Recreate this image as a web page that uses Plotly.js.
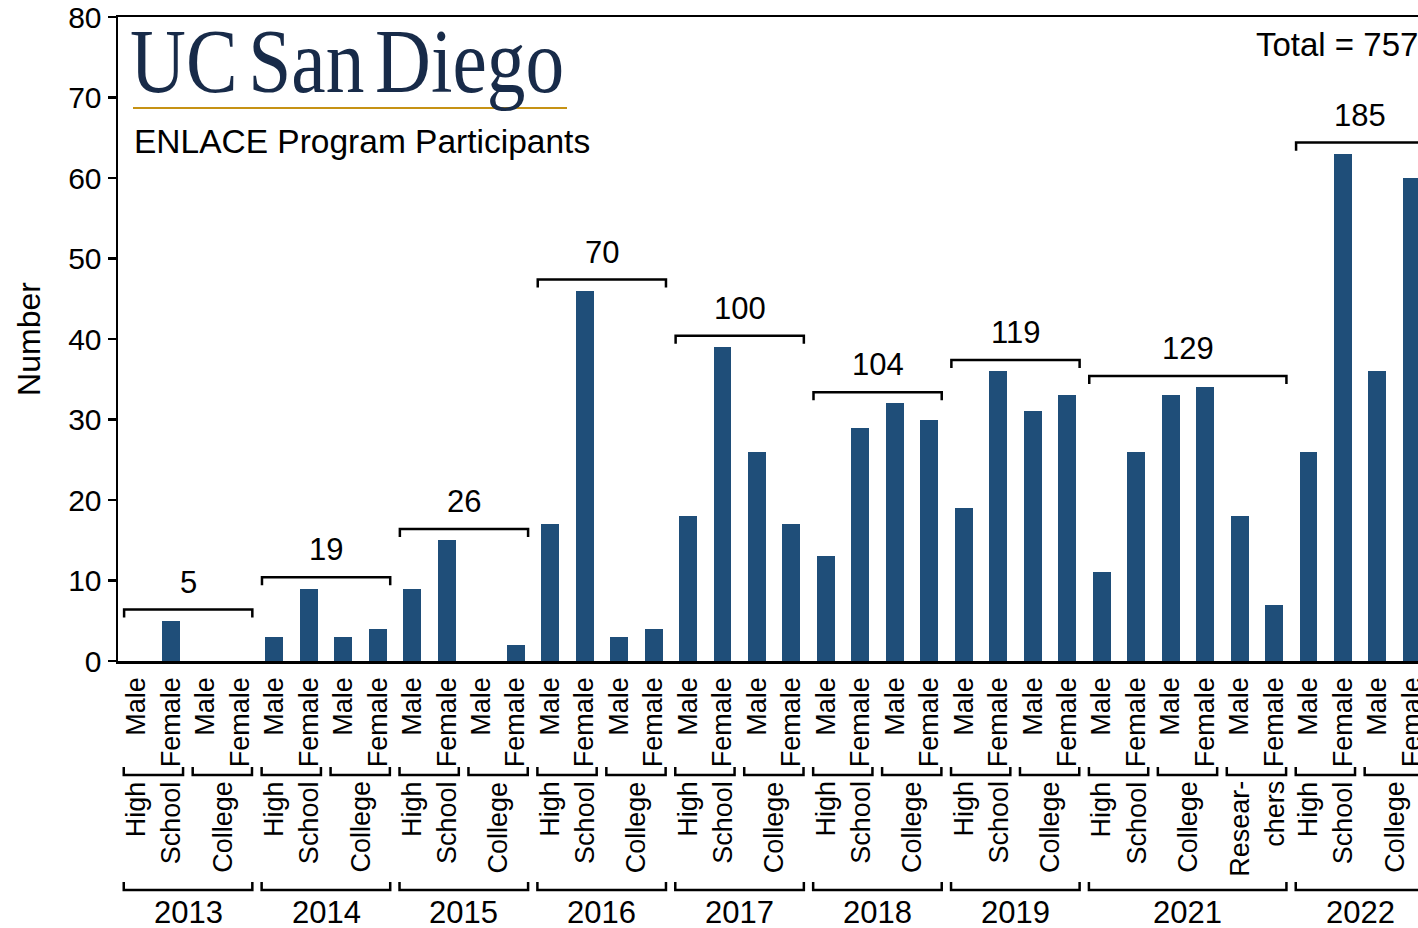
<!DOCTYPE html>
<html><head><meta charset="utf-8">
<script src="https://cdn.plot.ly/plotly-3.0.1.min.js"></script>
<style>
html,body{margin:0;padding:0;overflow:hidden;background:#fff;}
#chart{width:1450px;height:928px;}
.annotation[data-index="0"] text{transform-box:fill-box;transform-origin:0 50%;transform:scaleX(0.86);word-spacing:-10px;}
</style></head><body><div id="chart"></div>
<script>
// ---- data ----
const years = ['2013','2014','2015','2016','2017','2018','2019','2021','2022'];
const groupNames = [
  ['High<br>School','College'],
  ['High<br>School','College'],
  ['High<br>School','College'],
  ['High<br>School','College'],
  ['High<br>School','College'],
  ['High<br>School','College'],
  ['High<br>School','College'],
  ['High<br>School','College','Resear-<br>chers'],
  ['High<br>School','College']
];
const genders = ['Male','Female'];
const maleCounts   = [[0,0],[3,3],[9,0],[17,3],[18,26],[13,32],[19,31],[11,33,18],[26,36]];
const femaleCounts = [[5,0],[9,4],[15,2],[46,4],[39,17],[29,30],[36,33],[26,34,7],[63,60]];
const logoText = 'UC San Diego';
const subtitleText = 'ENLACE Program Participants';
const yTitle = 'Number';

// ---- layout geometry ----
const W=1450,H=928,L=118,T=17,R=18,B=267;
const plotW=W-L-R, plotH=H-T-B;
const xRange=[-0.537, -0.537 + plotW/34.47];
const FONT='"Liberation Sans", Arial, Helvetica, sans-serif';
function pX(px){return (px-L)/plotW;}
function pY(py){return (H-B-py)/plotH;}

let xs=[], ys=[], tt=[];
let shapes=[], annotations=[];
annotations.push({xref:'paper',yref:'paper',x:pX(119),y:pY(11),xanchor:'left',yanchor:'top',
  text:logoText,showarrow:false,borderpad:0,font:{family:'"Liberation Serif", "Times New Roman", serif',size:90,color:'#182b49'}});
annotations.push({xref:'paper',yref:'paper',x:pX(133),y:pY(141),xanchor:'left',yanchor:'middle',
  text:subtitleText,showarrow:false,borderpad:0,font:{family:FONT,size:33.5,color:'#000'}});
shapes.push({type:'line',xref:'paper',yref:'paper',x0:pX(133),x1:pX(567),y0:pY(108),y1:pY(108),line:{color:'#c69214',width:2}});

let grand=0;
let idx=0;
const lineStyle={color:'#000',width:2.5};
years.forEach((yr,k)=>{
  const start=idx; let vals=[];
  groupNames[k].forEach((g,j)=>{
    const gs=idx;
    [maleCounts[k][j],femaleCounts[k][j]].forEach((v,s)=>{
      xs.push(idx); ys.push(v); tt.push(genders[s]); vals.push(v); idx++;
    });
    const ge=idx-1;
    const a=gs-0.37,b=ge+0.35,yl=pY(775),yt=pY(767);
    shapes.push({type:'path',xref:'x',yref:'paper',path:`M${a},${yt} L${a},${yl} L${b},${yl} L${b},${yt}`,line:lineStyle});
    annotations.push({x:(gs+ge)/2,xref:'x',y:pY(780),yref:'paper',text:g,textangle:-90,align:'right',
      xanchor:'center',yanchor:'top',showarrow:false,borderpad:0,font:{family:FONT,size:27,color:'#000'}});
  });
  const end=idx-1;
  const a=start-0.37,b=end+0.36,yl=pY(890),yt=pY(882);
  shapes.push({type:'path',xref:'x',yref:'paper',path:`M${a},${yt} L${a},${yl} L${b},${yl} L${b},${yt}`,line:lineStyle});
  annotations.push({x:(start+end)/2,xref:'x',y:pY(912),yref:'paper',text:yr,xanchor:'center',yanchor:'middle',
    showarrow:false,borderpad:0,font:{family:FONT,size:31,color:'#000'}});
  const total=vals.reduce((p,c)=>p+c,0); grand+=total;
  const top=Math.max(...vals)+1.4;
  const ta=start-0.36,tb=end+0.36;
  shapes.push({type:'path',xref:'x',yref:'y',path:`M${ta},${top-1} L${ta},${top} L${tb},${top} L${tb},${top-1}`,line:lineStyle});
  annotations.push({x:(start+end)/2,xref:'x',y:top+1.1,yref:'y',text:String(total),xanchor:'center',yanchor:'bottom',
    showarrow:false,borderpad:0,font:{family:FONT,size:31,color:'#000'}});
});
annotations.push({xref:'paper',yref:'paper',x:pX(1419),y:pY(44),xanchor:'right',yanchor:'middle',
  text:'Total = '+grand,showarrow:false,borderpad:0,font:{family:FONT,size:33,color:'#000'}});

const trace={type:'bar',x:xs,y:ys,width:0.52,marker:{color:'#1f4e79',line:{width:0}},hoverinfo:'skip',showlegend:false};
const layout={
  width:W,height:H,margin:{l:L,r:R,t:T,b:B},paper_bgcolor:'#fff',plot_bgcolor:'#fff',
  font:{family:FONT,color:'#000'},
  xaxis:{range:xRange,tickmode:'array',tickvals:xs,ticktext:tt,tickangle:-90,ticks:'',
    tickfont:{size:27,family:FONT,color:'#000'},ticklabelstandoff:3,showgrid:false,zeroline:false,
    showline:true,mirror:true,linecolor:'#000',linewidth:2.5,fixedrange:true},
  yaxis:{range:[0,80],tickmode:'array',tickvals:[0,10,20,30,40,50,60,70,80],ticks:'outside',ticklen:8,tickwidth:2.5,tickcolor:'#000',
    tickfont:{size:30,family:FONT,color:'#000'},ticklabeloverflow:'allow',showgrid:false,zeroline:false,showline:true,mirror:true,linecolor:'#000',linewidth:2.5,
    title:{text:yTitle,font:{size:32,family:FONT,color:'#000'},standoff:18},fixedrange:true},
  shapes:shapes,annotations:annotations,hovermode:false,bargap:0
};
Plotly.newPlot('chart',[trace],layout,{displayModeBar:false,staticPlot:true});
</script></body></html>
